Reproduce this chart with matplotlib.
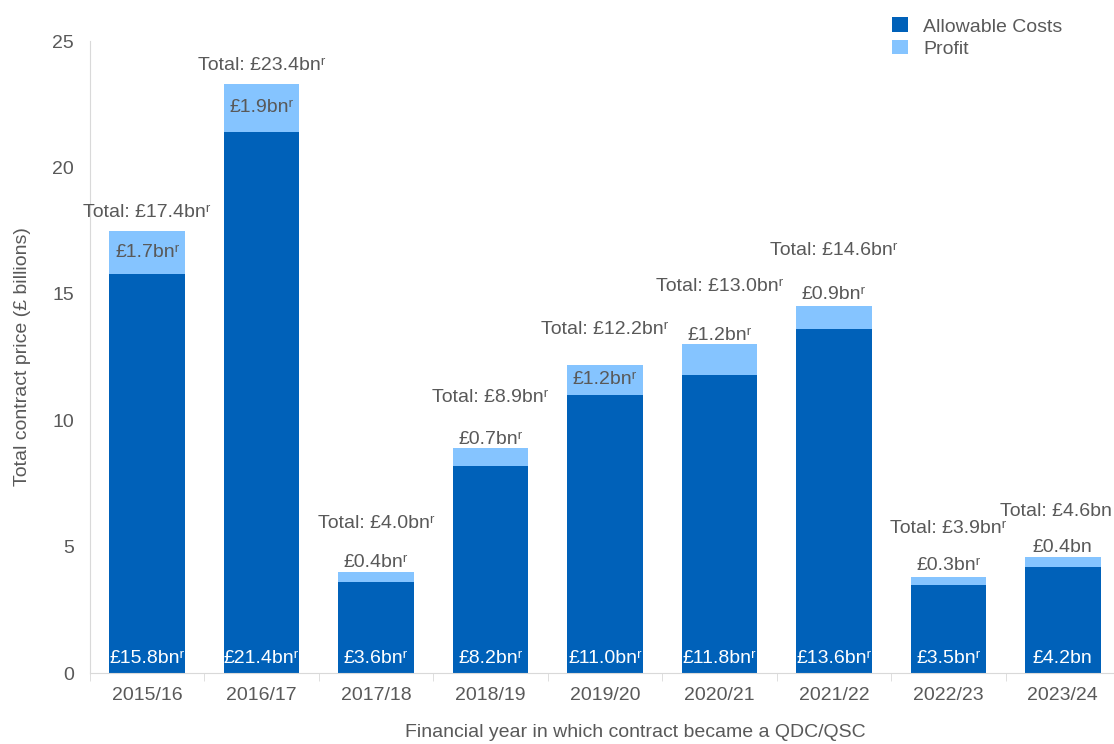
from matplotlib import pyplot as plt
import numpy as np

# Data (£ billions)
years = ['2015/16', '2016/17', '2017/18', '2018/19', '2019/20',
         '2020/21', '2021/22', '2022/23', '2023/24']
allowable = [15.8, 21.4, 3.6, 8.2, 11.0, 11.8, 13.6, 3.5, 4.2]
profit = [1.7, 1.9, 0.4, 0.7, 1.2, 1.2, 0.9, 0.3, 0.4]
totals = [17.4, 23.4, 4.0, 8.9, 12.2, 13.0, 14.6, 3.9, 4.6]
revised = [True, True, True, True, True, True, True, True, False]

# label layout (offsets above bar tops, in data units)
total_offset = [0.8, 0.65, 1.9, 2.0, 1.4, 2.3, 2.1, 1.8, 1.8]
total_nudge = [0, 0, 0, 0, 0, 0, 0, 0, -0.06]  # keep last label inside figure
profit_inside = [True, True, False, False, True, False, False, False, False]

dark = '#0061b9'
light = '#85c4ff'
grey = '#595959'

plt.rcParams['font.family'] = ['Liberation Sans', 'DejaVu Sans']

fig = plt.figure(figsize=(11.14, 7.44), dpi=100)
ax = fig.add_axes([90 / 1114, 71 / 744, 1030 / 1114, 632 / 744])

x = np.arange(len(years))
w = 0.66
ax.bar(x, allowable, width=w, color=dark, label='Allowable Costs')
ax.bar(x, profit, width=w, bottom=allowable, color=light, label='Profit')

fs = 14
for i in x:
    r = 'ʳ' if revised[i] else ''
    ax.text(i, 0.25, f'£{allowable[i]:.1f}bn{r}', ha='center', va='bottom',
            color='white', fontsize=fs)
    if profit_inside[i]:
        py = allowable[i] + profit[i] / 2
        va = 'center'
    else:
        py = totals[i] + 0.02
        va = 'bottom'
    ax.text(i, py, f'£{profit[i]:.1f}bn{r}', ha='center', va=va,
            color=grey, fontsize=fs)
    ax.text(i + total_nudge[i], totals[i] + total_offset[i],
            f'Total: £{totals[i]:.1f}bn{r}',
            ha='center', va='center', color=grey, fontsize=fs)

ax.set_xlim(-0.5, len(years) - 0.5)
ax.set_ylim(0, 25)
ax.set_yticks([0, 5, 10, 15, 20, 25])
ax.set_xticks(x, years)
ax.set_xticks(np.arange(-0.5, len(years)), minor=True)
ax.tick_params(axis='x', which='major', length=0, pad=10, colors=grey, labelsize=fs)
ax.tick_params(axis='x', which='minor', length=6, color='#d9d9d9')
ax.tick_params(axis='y', length=0, pad=11.5, colors=grey, labelsize=fs)

for s in ['top', 'right']:
    ax.spines[s].set_visible(False)
for s in ['left', 'bottom']:
    ax.spines[s].set_color('#d9d9d9')

ax.set_ylabel('Total contract price (£ billions)', color=grey, fontsize=fs)
ax.yaxis.set_label_coords(-0.057, 0.5)
ax.set_xlabel('Financial year in which contract became a QDC/QSC', color=grey,
              fontsize=fs)
ax.xaxis.set_label_coords(0.529, -0.081)

ax.legend(loc='upper left', bbox_to_anchor=(0.762, 1.065), frameon=False,
          fontsize=fs, handlelength=0.8, handleheight=0.8, labelspacing=0.2,
          handletextpad=0.8, labelcolor=grey)

plt.savefig('out.png', dpi=100)
